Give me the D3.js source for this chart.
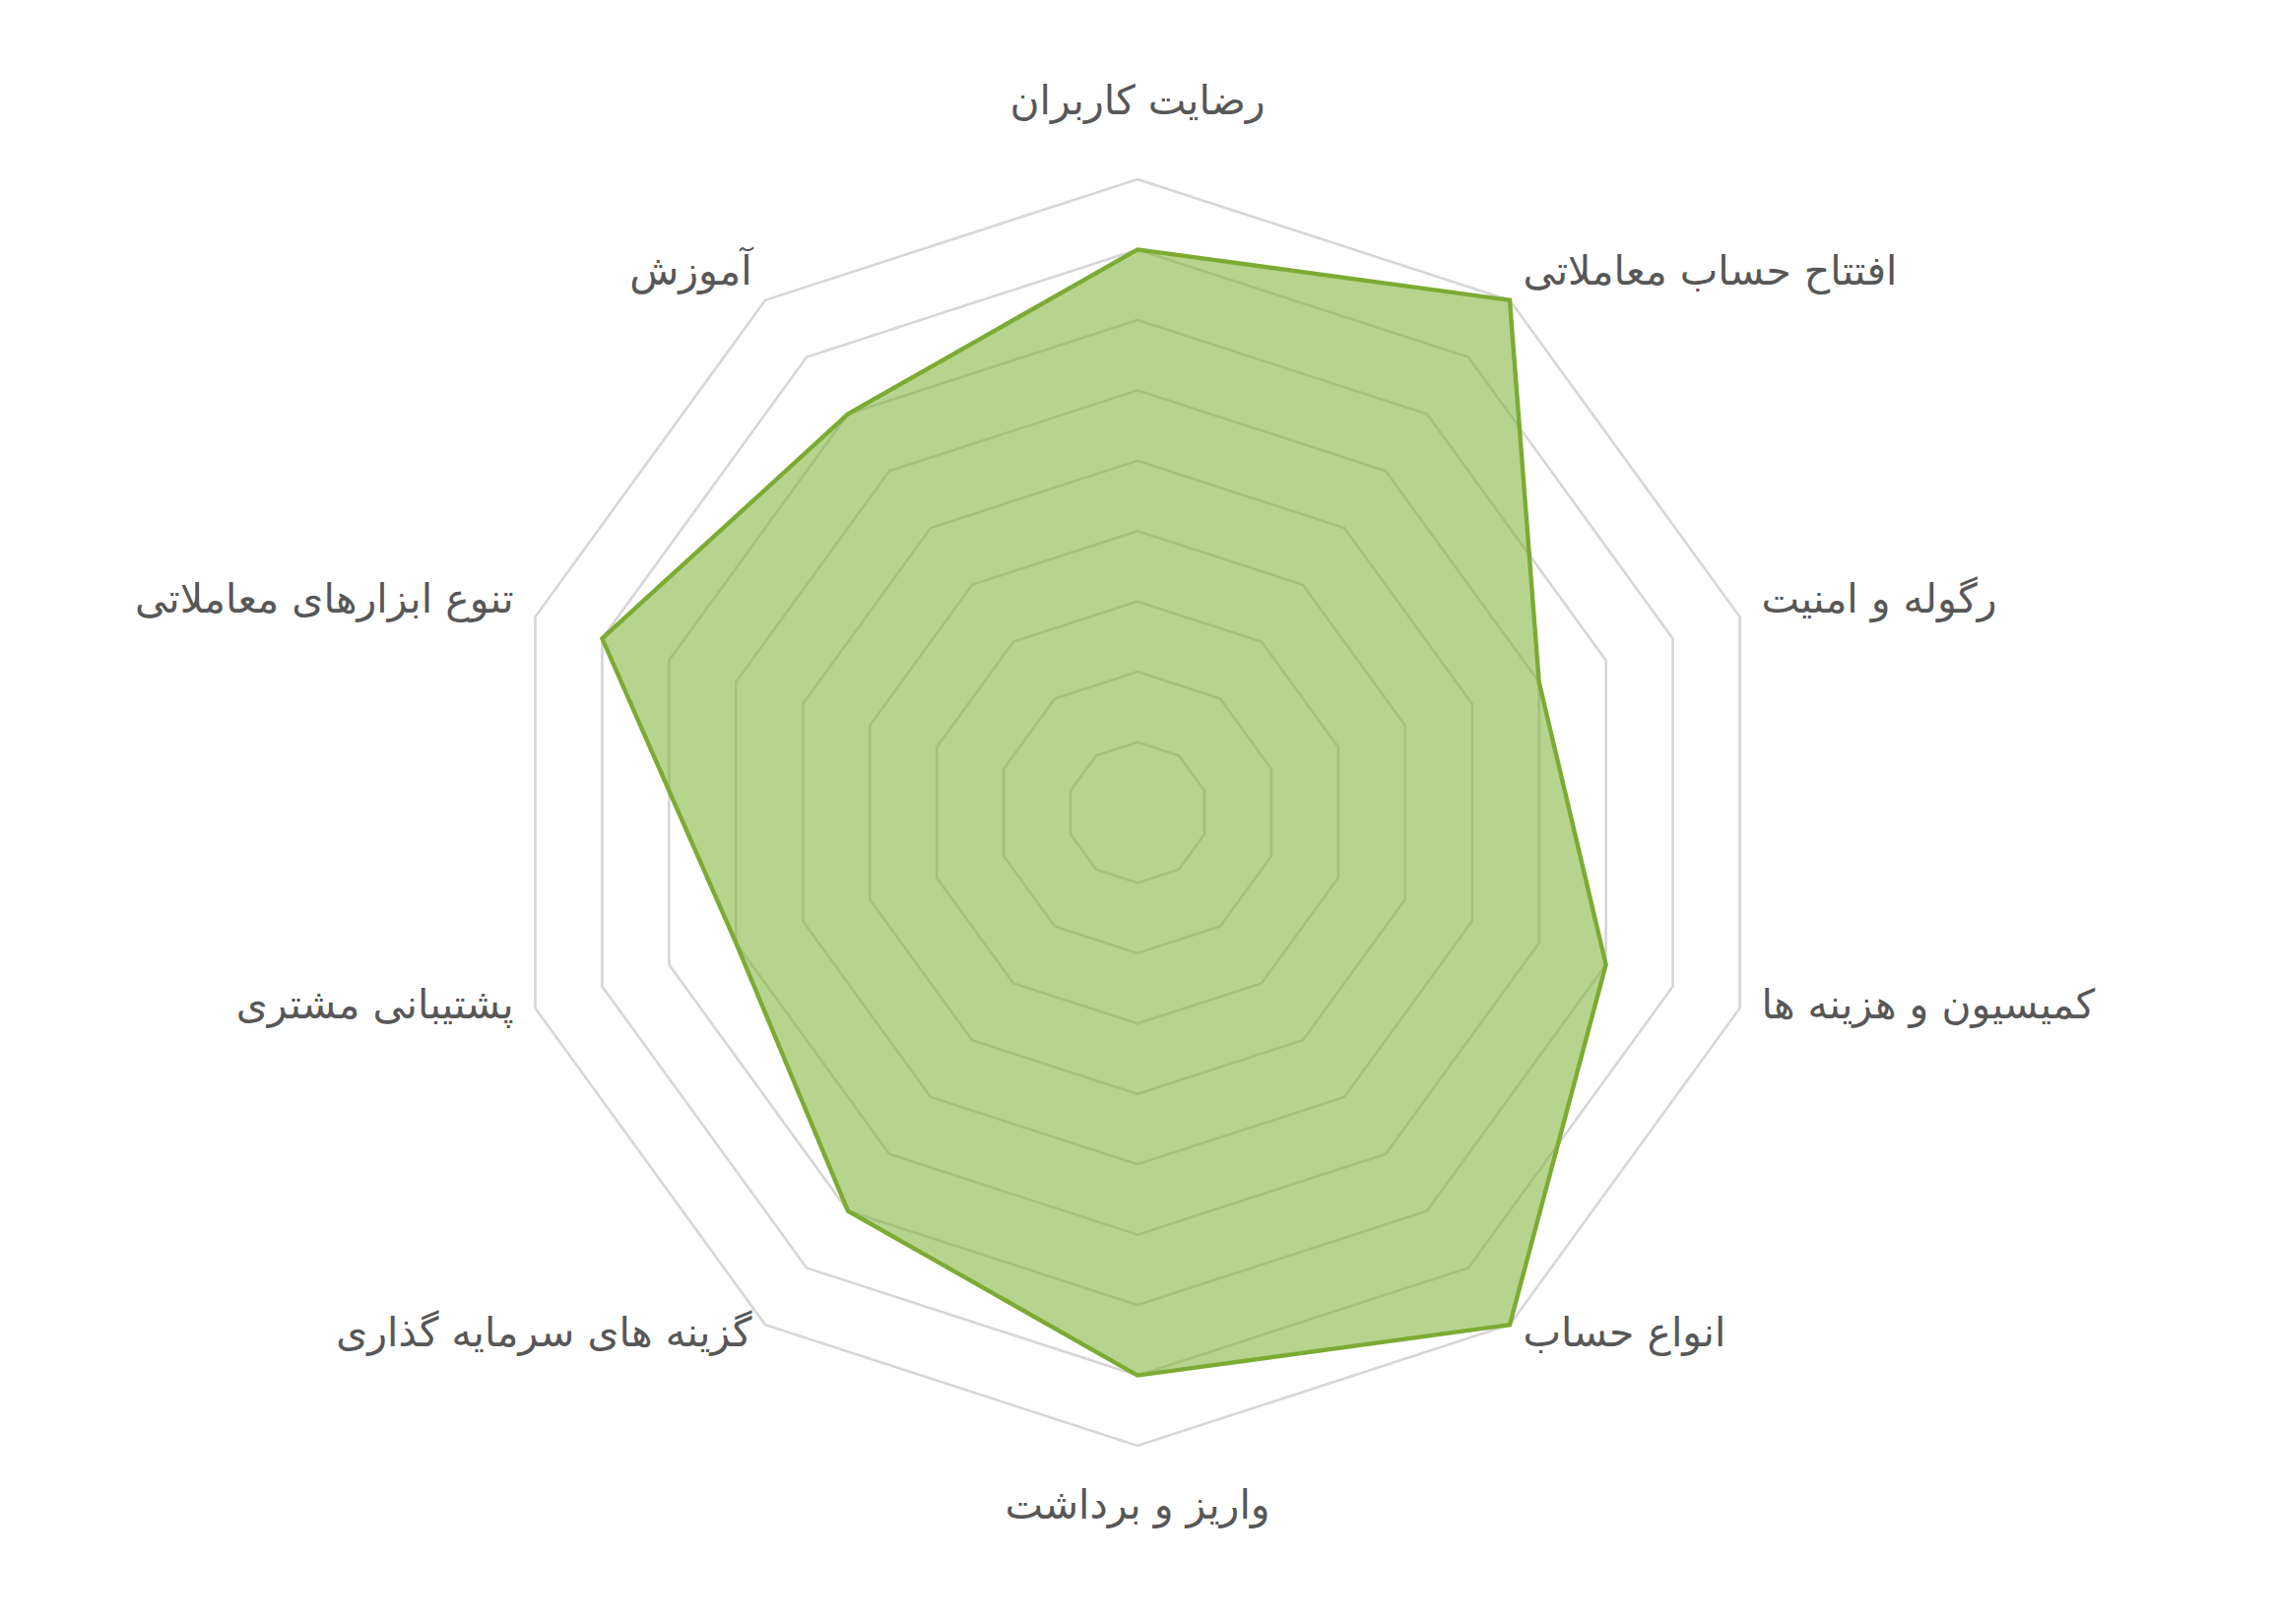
<!DOCTYPE html>
<meta charset="utf-8">
<script src="https://d3js.org/d3.v7.min.js"></script>
<style>
  body { margin: 0; background: #fff; }
  text { font-family: "DejaVu Sans", sans-serif; fill: #575757; }
</style>
<div id="my_dataviz"></div>
<script>

// categories, clockwise from the top
var categories = [
  "رضایت کاربران",
  "افتتاح حساب معاملاتی",
  "رگوله و امنیت",
  "کمیسیون و هزینه ها",
  "انواع حساب",
  "واریز و برداشت",
  "گزینه های سرمایه گذاری",
  "پشتیبانی مشتری",
  "تنوع ابزارهای معاملاتی",
  "آموزش"
];
var scores = [8, 9, 6, 7, 9, 8, 7, 6, 8, 7];
var gridLevels = [1, 2, 3, 4, 5, 6, 7, 8, 9];

var width = 2310, height = 1649;
var cx = 1155, cy = 825, radius = 643;

var svg = d3.select("#my_dataviz")
  .append("svg")
    .attr("width", width)
    .attr("height", height)
  .append("g")
    .attr("transform", "translate(" + cx + "," + cy + ")");

// scales
var r = d3.scaleLinear().domain([0, 9]).range([0, radius]);
var angle = d3.scaleLinear().domain([0, categories.length]).range([0, 2 * Math.PI]);

// grid decagons
var gridLine = d3.lineRadial()
  .angle(function(d, i) { return angle(i); })
  .radius(function(d) { return r(d); })
  .curve(d3.curveLinearClosed);

svg.selectAll(".grid")
  .data(gridLevels)
  .enter()
  .append("path")
    .attr("class", "grid")
    .attr("d", function(lvl) { return gridLine(categories.map(function() { return lvl; })); })
    .style("fill", "none")
    .style("stroke", "#d6d6d6")
    .style("stroke-width", 2.6);

// the data area
svg.append("path")
  .datum(scores)
  .attr("d", gridLine)
  .style("fill", "#7cb032")
  .style("fill-opacity", 0.55)
  .style("stroke", "#7cab34")
  .style("stroke-width", 4.4)
  .style("stroke-linejoin", "miter");

// point labels
var labelR = radius + 23;
svg.selectAll(".label")
  .data(categories)
  .enter()
  .append("text")
    .attr("class", "label")
    .attr("direction", "rtl")
    .style("font-size", "41px")
    .attr("dominant-baseline", "central")
    .attr("text-anchor", function(d, i) {
      var s = Math.sin(angle(i));
      if (Math.abs(s) < 0.01) return "middle";
      return s > 0 ? "end" : "start";   // rtl: end = left edge
    })
    .attr("x", function(d, i) { return Math.sin(angle(i)) * labelR; })
    .attr("y", function(d, i) {
      var c = -Math.cos(angle(i));
      if (c < -0.99) return -radius - 80;
      if (c > 0.99) return radius + 60;
      return c * labelR - 11;
    })
    .text(function(d) { return d; });

</script>
